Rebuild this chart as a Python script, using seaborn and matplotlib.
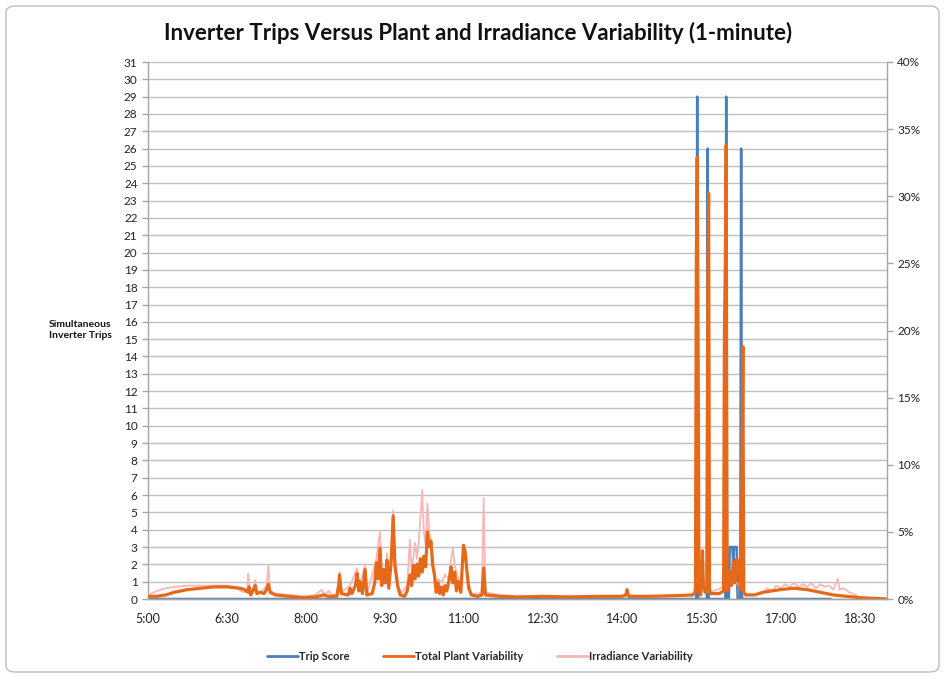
import numpy as np
import pandas as pd
import matplotlib
matplotlib.use("Agg")
import matplotlib.pyplot as plt
from matplotlib.patches import FancyBboxPatch
from matplotlib.ticker import FuncFormatter, MultipleLocator
import seaborn as sns

# --- dados (hora, valor) ---
trip_times = ["5:00", "15:24", "15:25", "15:26", "15:36", "15:37", "15:38", "15:57", "15:58",
              "15:59", "16:01", "16:02", "16:05", "16:06", "16:07", "16:10", "16:11", "16:14",
              "16:15", "16:16", "17:57"]
trip_vals = [0, 0, 29, 0, 0, 26, 0, 0, 29,
             0, 0, 3, 3, 2, 3, 3, 0, 0,
             26, 0, 0]

plant_times = ["5:00", "5:10", "5:20", "5:30", "5:45", "6:00", "6:15", "6:30", "6:45", "6:50",
               "6:54", "6:55", "6:57", "7:00", "7:02", "7:04", "7:08", "7:12", "7:15", "7:17",
               "7:19", "7:25", "7:40", "7:55", "8:10", "8:20", "8:25", "8:35", "8:37", "8:38",
               "8:40", "8:48", "8:50", "8:52", "8:56", "8:58", "9:00", "9:01", "9:04", "9:07",
               "9:09", "9:15", "9:18", "9:20", "9:22", "9:24", "9:26", "9:28", "9:30", "9:32",
               "9:34", "9:37", "9:39", "9:41", "9:44", "9:47", "9:52", "9:55", "9:58", "10:00",
               "10:02", "10:04", "10:06", "10:08", "10:10", "10:12", "10:14", "10:16", "10:18", "10:20",
               "10:22", "10:24", "10:26", "10:28", "10:30", "10:32", "10:34", "10:36", "10:38", "10:40",
               "10:43", "10:45", "10:47", "10:49", "10:51", "10:53", "10:56", "10:58", "10:59", "11:01",
               "11:03", "11:05", "11:08", "11:15", "11:20", "11:22", "11:24", "11:40", "12:00", "12:30",
               "13:00", "13:30", "14:00", "14:04", "14:05", "14:07", "14:30", "15:00", "15:20", "15:23",
               "15:24", "15:25", "15:26", "15:27", "15:29", "15:30", "15:31", "15:32", "15:34", "15:36",
               "15:37", "15:38", "15:39", "15:40", "15:50", "15:55", "15:56", "15:57", "15:58", "15:59",
               "16:00", "16:02", "16:04", "16:06", "16:08", "16:10", "16:12", "16:14", "16:15", "16:16",
               "16:17", "16:18", "16:20", "16:30", "16:40", "16:50", "17:00", "17:15", "17:30", "17:45",
               "18:00", "18:15", "18:30", "18:45", "19:01"]
plant_vals = [0.2, 0.2, 0.3, 0.5, 0.7, 0.8, 0.9, 0.9, 0.8, 0.7,
              0.5, 0.9, 0.3, 0.7, 1.0, 0.4, 0.5, 0.4, 0.7, 1.1,
              0.5, 0.3, 0.2, 0.1, 0.15, 0.3, 0.2, 0.2, 1.0, 1.8,
              0.4, 0.3, 0.8, 0.4, 1.0, 1.9, 0.6, 1.3, 0.4, 2.2,
              0.3, 0.4, 1.2, 2.7, 1.5, 3.8, 1.0, 2.2, 1.2, 2.9,
              0.8, 3.0, 6.2, 2.5, 1.0, 0.3, 0.2, 0.6, 1.8, 1.0,
              2.5, 1.5, 2.6, 1.7, 3.0, 2.0, 3.2, 2.4, 5.0, 3.9,
              4.3, 2.5, 1.8, 0.5, 1.2, 0.4, 0.9, 0.3, 1.0, 0.6,
              1.5, 2.4, 1.2, 2.0, 0.6, 1.3, 0.5, 2.8, 4.0, 3.5,
              2.0, 0.8, 0.3, 0.2, 0.3, 2.3, 0.3, 0.2, 0.15, 0.2,
              0.15, 0.2, 0.2, 0.3, 0.7, 0.2, 0.2, 0.25, 0.3, 0.5,
              25.0, 32.9, 20.0, 0.6, 0.3, 1.5, 3.6, 1.0, 0.5, 0.6,
              22.0, 30.2, 0.8, 0.4, 0.4, 0.6, 20.0, 25.0, 33.8, 0.6,
              0.8, 2.0, 1.0, 2.8, 1.2, 3.0, 2.5, 0.7, 1.0, 10.0,
              18.8, 0.5, 0.3, 0.3, 0.5, 0.6, 0.7, 0.8, 0.7, 0.5,
              0.3, 0.2, 0.1, 0.05, 0.0]

irr_times = ["5:00", "5:10", "5:20", "5:30", "5:45", "6:00", "6:15", "6:30", "6:40", "6:45",
             "6:50", "6:53", "6:54", "6:56", "7:00", "7:02", "7:04", "7:10", "7:15", "7:17",
             "7:19", "7:25", "7:40", "8:00", "8:10", "8:18", "8:20", "8:26", "8:28", "8:35",
             "8:38", "8:40", "8:50", "8:58", "9:00", "9:07", "9:10", "9:20", "9:22", "9:24",
             "9:26", "9:30", "9:32", "9:34", "9:37", "9:39", "9:41", "9:45", "9:48", "9:55",
             "9:58", "10:00", "10:04", "10:06", "10:08", "10:10", "10:12", "10:14", "10:16", "10:18",
             "10:20", "10:22", "10:24", "10:26", "10:28", "10:30", "10:34", "10:38", "10:42", "10:45",
             "10:47", "10:49", "10:53", "10:56", "10:58", "10:59", "11:01", "11:04", "11:08", "11:20",
             "11:22", "11:24", "11:40", "12:00", "13:00", "14:00", "14:05", "14:10", "15:00", "15:20",
             "15:25", "15:30", "15:31", "15:35", "15:40", "16:00", "16:05", "16:10", "16:20", "16:30",
             "16:40", "16:45", "16:50", "16:55", "17:00", "17:05", "17:10", "17:15", "17:20", "17:25",
             "17:30", "17:35", "17:40", "17:45", "17:50", "17:55", "18:00", "18:05", "18:07", "18:12",
             "18:18", "18:25", "18:30", "18:35", "19:01"]
irr_vals = [0.3, 0.6, 0.8, 0.9, 1.0, 1.0, 1.0, 1.0, 0.9, 0.6,
            0.5, 0.6, 1.9, 0.5, 0.8, 1.4, 0.5, 0.6, 1.0, 2.5,
            0.6, 0.4, 0.3, 0.2, 0.3, 0.7, 0.3, 0.6, 0.3, 0.4,
            2.0, 0.5, 1.0, 2.3, 0.8, 2.5, 0.5, 3.0, 4.1, 5.0,
            2.0, 1.5, 3.4, 1.2, 4.0, 6.6, 3.0, 1.0, 0.4, 1.0,
            4.4, 2.0, 4.2, 3.0, 4.2, 6.0, 8.1, 5.0, 4.0, 7.1,
            5.0, 4.5, 3.0, 2.0, 1.0, 1.5, 1.2, 1.8, 1.5, 3.0,
            3.8, 2.5, 1.5, 1.0, 3.0, 4.0, 3.5, 1.5, 0.4, 0.4,
            7.5, 0.5, 0.3, 0.2, 0.2, 0.2, 0.5, 0.2, 0.2, 0.3,
            1.5, 0.8, 2.0, 0.6, 0.5, 1.0, 1.5, 1.2, 0.4, 0.3,
            0.5, 0.8, 0.6, 1.0, 0.8, 1.1, 0.9, 1.2, 0.9, 1.1,
            0.9, 1.2, 0.8, 1.1, 0.9, 1.0, 0.7, 1.5, 0.7, 0.8,
            0.5, 0.3, 0.1, 0.0, 0.0]

x_ticks = ["5:00", "6:30", "8:00", "9:30", "11:00", "12:30", "14:00", "15:30", "17:00", "18:30"]


def para_minutos(lista):
    out = []
    for s in lista:
        h, m = s.split(":")
        out.append(int(h) * 60 + int(m))
    return np.array(out)


def fmt_hora(v, pos=None):
    v = int(round(v))
    return f"{v // 60}:{v % 60:02d}"


sns.set_style("white")
plt.rcParams["font.family"] = ["Lato", "DejaVu Sans"]

BLUE = "#4A7EBB"
ORANGE = "#E6691A"
PINK = "#F6B7B7"
GRID = "#BFBFBF"

fig = plt.figure(figsize=(9.45, 6.78), dpi=100)
ax = fig.add_axes([148 / 945, 1 - 599 / 678, (887 - 148) / 945, (599 - 62) / 678])
ax2 = ax.twinx()

df_trip = pd.DataFrame({"t": para_minutos(trip_times), "v": trip_vals})
df_plant = pd.DataFrame({"t": para_minutos(plant_times), "v": np.array(plant_vals) / 100})
df_irr = pd.DataFrame({"t": para_minutos(irr_times), "v": np.array(irr_vals) / 100})

sns.lineplot(data=df_trip, x="t", y="v", ax=ax, color=BLUE, linewidth=1.8,
             estimator=None, legend=False)
sns.lineplot(data=df_irr, x="t", y="v", ax=ax2, color=PINK, linewidth=1.3,
             estimator=None, legend=False)
sns.lineplot(data=df_plant, x="t", y="v", ax=ax2, color=ORANGE, linewidth=2.3,
             estimator=None, legend=False)

ax.set_xlim(300, 1141)
ax.set_ylim(0, 31)
ax2.set_ylim(0, 0.40)

ax.yaxis.set_major_locator(MultipleLocator(1))
ax.set_xticks(para_minutos(x_ticks))
ax.xaxis.set_major_formatter(FuncFormatter(fmt_hora))
ax2.yaxis.set_major_locator(MultipleLocator(0.05))
ax2.yaxis.set_major_formatter(FuncFormatter(lambda v, p: f"{v * 100:.0f}%"))

ax.grid(axis="y", color=GRID, linewidth=1.0)
ax.set_axisbelow(True)
ax.set_xlabel("")
ax.set_ylabel("")
ax2.set_ylabel("")

for a in (ax, ax2):
    a.spines["top"].set_visible(False)
    for s in ("left", "right", "bottom"):
        a.spines[s].set_color("#A6A6A6")
        a.spines[s].set_linewidth(1.0)
    a.tick_params(colors="#A6A6A6", labelcolor="#222222", labelsize=8.5, length=4, width=1,
                  direction="out")
ax2.spines["left"].set_visible(False)
ax.spines["right"].set_visible(False)
ax.tick_params(axis="x", labelsize=9, pad=6)

fig.text(478 / 945, 1 - 33 / 678,
         "Inverter Trips Versus Plant and Irradiance Variability (1-minute)",
         ha="center", va="center", fontsize=16, fontweight="bold", color="#111111")
fig.text(80 / 945, 1 - 330 / 678, "Simultaneous\nInverter Trips", ha="center", va="center",
         fontsize=7.5, fontweight="bold", color="#111111", linespacing=1.4)

handles = [plt.Line2D([], [], color=BLUE, lw=2),
           plt.Line2D([], [], color=ORANGE, lw=2),
           plt.Line2D([], [], color=PINK, lw=2)]
fig.legend(handles, ["Trip Score", "Total Plant Variability", "Irradiance Variability"],
           loc="center", bbox_to_anchor=(480 / 945, 1 - 656 / 678), ncol=3, frameon=False,
           prop={"size": 8, "weight": "bold"}, handlelength=2.8, handletextpad=0.1,
           columnspacing=3.0)

borda = FancyBboxPatch((6 / 945, 6 / 678), 933 / 945, 666 / 678, transform=fig.transFigure,
                       boxstyle="round,pad=0,rounding_size=0.01", facecolor="none",
                       edgecolor="#BDBDBD", linewidth=1.0)
fig.patches.append(borda)

fig.savefig("out.png", dpi=100)
